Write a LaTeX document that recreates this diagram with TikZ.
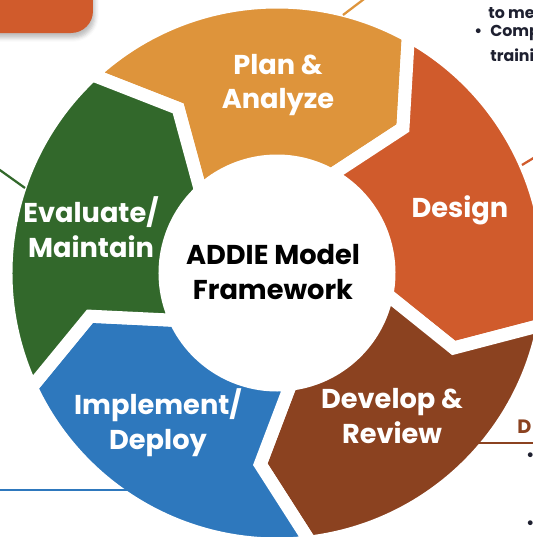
\documentclass[tikz,border=0pt]{standalone}
\usepackage{fontspec}
\setmainfont{Poppins}
\usetikzlibrary{positioning,shadows.blur}

\definecolor{planC}{RGB}{222,148,59}
\definecolor{designC}{RGB}{208,91,44}
\definecolor{developC}{RGB}{139,66,32}
\definecolor{deployC}{RGB}{46,120,189}
\definecolor{evalC}{RGB}{50,104,43}
\definecolor{inkC}{RGB}{30,32,48}

\begin{document}
\begin{tikzpicture}[x=0.2mm,y=0.2mm,
  seg/.style={draw=white,line width=2.6mm},
  steplabel/.style={text=white,font=\fontsize{15.5}{19.8}\selectfont\bfseries,align=center},
  hublabel/.style={text=black,font=\fontsize{15.5}{19.8}\selectfont\bfseries,align=center},
  lead/.style={line width=0.45mm},
  note/.style={text=inkC,font=\fontsize{9}{12}\selectfont\bfseries,anchor=west,inner sep=0pt}]
\useasboundingbox (0,0) rectangle (533,537);

% tab in the corner
\fill[designC,rounded corners=4.4mm,blur shadow={shadow xshift=0.4mm,shadow yshift=-1mm,shadow opacity=25}] (-40,504) rectangle (93,580);

% the cycle
\begin{scope}[shift={(277,264)}]
  \foreach \s/\col [evaluate=\s as \e using \s-72,
                    evaluate=\s as \t using \s-84,
                    evaluate=\s as \n using \s-12]
      in {133/planC,61/designC,-11/developC,-83/deployC,-155/evalC}
    \path[seg,fill=\col] (\s:271) arc[start angle=\s,end angle=\e,radius=271]
      -- (\t:192) -- (\e:112) arc[start angle=\e,end angle=\s,radius=112]
      -- (\n:192) -- cycle;
\end{scope}

\node[steplabel] (plan) at (278,452) {Plan \&\\Analyze};
\node[steplabel] (design) at (460,327) {Design};
\node[steplabel] (develop) at (392,121) {Develop \&\\Review};
\node[steplabel] (deploy) at (158,114) {Implement/\\Deploy};
\node[steplabel] (evaluate) at (91,310) {Evaluate/\\Maintain};
\node[hublabel] (hub) at (273,265) {ADDIE Model\\Framework};

% leader lines
\coordinate (planA) at (343,522);
\coordinate (planB) at (372,544);
\draw[lead,planC] (planA) -- (planB);
\coordinate (designA) at (522,372);
\coordinate (designB) at (545,386);
\draw[lead,designC] (designA) -- (designB);
\coordinate (evalA) at (25,349);
\coordinate (evalB) at (-10,374);
\draw[lead,evalC] (evalA) -- (evalB);
\coordinate (deployA) at (130,47);
\coordinate (deployB) at (-10,47);
\draw[lead,deployC] (deployA) -- (deployB);
\coordinate (developA) at (477,94);
\coordinate (developB) at (545,94);
\draw[lead,developC] (developA) -- (developB);

% cut-off notes
\node[note] (topA) at (488,524) {to me};
\node[note] (topB) at (490,504) {Comp};
\node[note] (dotA) at (474,504) {•};
\node[note] (topC) at (490,482) {traini};
\node[note,text=developC,font=\fontsize{11}{13}\selectfont\bfseries] (head) at (517,110) {D};
\node[note] (dotB) at (526,80) {•};
\node[note] (dotC) at (526,12) {•};
\end{tikzpicture}
\end{document}
